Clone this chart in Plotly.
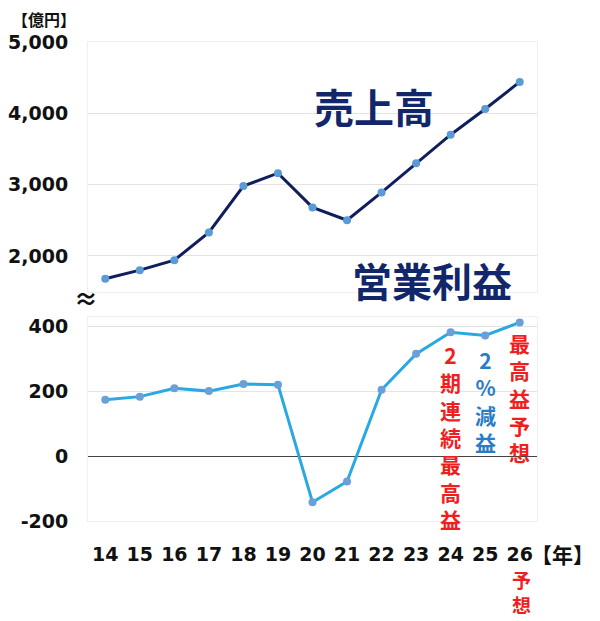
import plotly.graph_objects as go
from plotly.subplots import make_subplots

# 年度 (2014-2026, 26 is forecast)
years = ["14", "15", "16", "17", "18", "19", "20", "21", "22", "23", "24", "25", "26"]
# 売上高 [億円]
sales = [1680, 1800, 1940, 2330, 2980, 3160, 2680, 2500, 2890, 3300, 3700, 4060, 4440]
# 営業利益 [億円]
op_profit = [174, 184, 210, 201, 223, 221, -142, -78, 205, 316, 383, 373, 413]

sales_ticks = [2000, 3000, 4000, 5000]
profit_ticks = [-200, 0, 200, 400]
profit_labels = ["-200", "0", "200", "400"]

NUM_FONT = "DejaVu Sans"
JP_FONT = "Noto Sans CJK JP"
NAVY = "#12276b"
RED = "#f01e1e"
BLUE = "#2a7cc7"

fig = make_subplots(rows=2, cols=1, shared_xaxes=True, vertical_spacing=0.05)

fig.add_trace(go.Scatter(x=years, y=sales, mode="lines+markers",
                         line=dict(color="#0f1f5e", width=3),
                         marker=dict(color="#5b9bd5", size=8)), row=1, col=1)
fig.add_trace(go.Scatter(x=years, y=op_profit, mode="lines+markers",
                         line=dict(color="#2aa8e2", width=3),
                         marker=dict(color="#6a9fd8", size=8)), row=2, col=1)

tick_font = dict(family=NUM_FONT, size=19, color="#111111", weight="bold")
x_range = [-0.5, len(years) - 0.5]

# page body has an 8px margin, so the figure is a bit smaller than the window
fig.update_layout(
    width=592, height=613,
    margin=dict(l=80, r=63, t=34, b=100, autoexpand=False),
    paper_bgcolor="white", plot_bgcolor="white",
    showlegend=False,
    xaxis=dict(type="category", range=x_range, showticklabels=False, showgrid=False,
               showline=True, linecolor="#f0f0f0", mirror=True),
    xaxis2=dict(type="category", range=x_range, showgrid=False, tickfont=tick_font,
                ticklabelstandoff=16, showline=True, linecolor="#f0f0f0", mirror=True),
    yaxis=dict(domain=[0.479, 1], range=[1500, 5000], tickvals=sales_ticks,
               tickformat=",", tickfont=tick_font, ticklabelstandoff=15,
               gridcolor="#e4e4e4", zeroline=False,
               showline=True, linecolor="#f0f0f0", mirror=True),
    yaxis2=dict(domain=[0, 0.426], range=[-200, 430], tickvals=profit_ticks,
                ticktext=profit_labels, tickfont=tick_font, ticklabelstandoff=15,
                gridcolor="#e4e4e4", zeroline=True, zerolinecolor="#444444",
                zerolinewidth=1, showline=True, linecolor="#f0f0f0", mirror=True),
)

def note(text, x, y, size, color, xref="paper", yref="paper"):
    fig.add_annotation(text=text, x=x, y=y, xref=xref, yref=yref, showarrow=False,
                       xanchor="center", yanchor="middle",
                       font=dict(family=JP_FONT, size=size, color=color, weight="bold"))

note("【億円】", -0.098, 1.048, 16, "#111111")
note("【年】", 1.056, -0.069, 21, "#111111")
note("≈", -0.004, 0.466, 24, "#111111")
note("売上高", 0.638, 0.867, 40, NAVY)
note("営業利益", 0.766, 0.503, 40, NAVY)
note("2<br>期<br>連<br>続<br>最<br>高<br>益", years.index("24"), 58, 21, RED, "x2", "y2")
note("2<br>%<br>減<br>益", years.index("25"), 171, 21, BLUE, "x2", "y2")
note("最<br>高<br>益<br>予<br>想", years.index("26"), 180, 21, RED, "x2", "y2")
note("予<br>想", 0.966, -0.148, 19, RED)

fig.write_html("out.html")
